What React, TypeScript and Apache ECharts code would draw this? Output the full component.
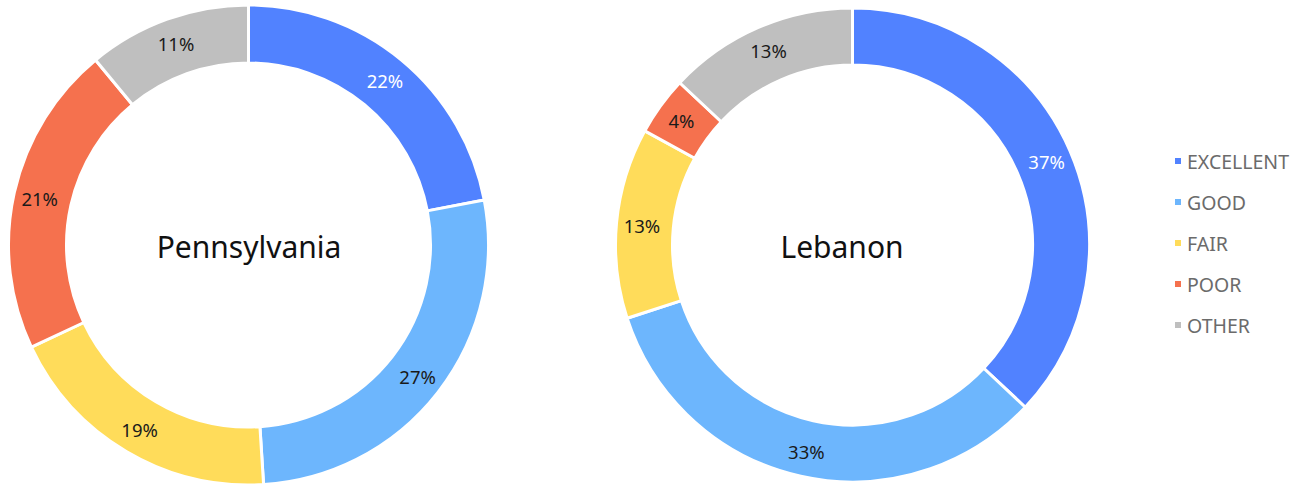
import React, { useEffect, useRef } from "react";
import * as echarts from "echarts";

const categories = ["EXCELLENT", "GOOD", "FAIR", "POOR", "OTHER"];
const colors = ["#5182FF", "#6DB6FD", "#FFDC5A", "#F5714E", "#BFBFBF"];
const pennsylvaniaValues = [22, 27, 19, 21, 11];
const lebanonValues = [37, 33, 13, 4, 13];
const regions = ["Pennsylvania", "Lebanon"];

const FONT = "'Noto Sans', 'Open Sans', sans-serif";

function buildData(values: number[]) {
  return values.map((v, i) => ({
    name: categories[i],
    value: v,
    itemStyle: { color: colors[i] },
    label: { color: i === 0 ? "#ffffff" : "#1a1a1a" },
  }));
}

export default function App() {
  const ref = useRef<HTMLDivElement>(null);
  useEffect(() => {
    if (!ref.current) return;
    const chart = echarts.init(ref.current, null, { renderer: "svg" });
    const pieCommon = {
      type: "pie",
      clockwise: true,
      startAngle: 90,
      avoidLabelOverlap: false,
      itemStyle: { borderColor: "#ffffff", borderWidth: 3 },
      label: {
        show: true,
        position: "inside",
        formatter: "{c}%",
        fontSize: 18.5,
        fontFamily: FONT,
      },
      labelLine: { show: false },
      emphasis: { disabled: true },
    };
    chart.setOption({
      animation: false,
      backgroundColor: "#ffffff",
      legend: {
        orient: "vertical",
        left: 1168,
        top: 146,
        icon: "rect",
        itemWidth: 8,
        itemHeight: 8,
        itemGap: 21,
        data: categories,
        textStyle: { fontSize: 19.5, color: "#6b6b6b", fontFamily: FONT },
      },
      graphic: [
        {
          type: "text",
          x: 249,
          y: 246,
          style: {
            text: regions[0],
            fontSize: 30,
            fontFamily: FONT,
            fill: "#111111",
            textAlign: "center",
            textVerticalAlign: "middle",
          },
        },
        {
          type: "text",
          x: 842,
          y: 246,
          style: {
            text: regions[1],
            fontSize: 30,
            fontFamily: FONT,
            fill: "#111111",
            textAlign: "center",
            textVerticalAlign: "middle",
          },
        },
      ],
      series: [
        {
          ...pieCommon,
          name: regions[0],
          center: [248.5, 245],
          radius: [182, 240],
          data: buildData(pennsylvaniaValues),
        },
        {
          ...pieCommon,
          name: regions[1],
          center: [852.5, 245],
          radius: [180, 237],
          data: buildData(lebanonValues),
        },
      ],
    });
    return () => chart.dispose();
  }, []);
  return (
    <div
      ref={ref}
      style={{ position: "fixed", left: 0, top: 0, width: 1305, height: 485 }}
    />
  );
}
